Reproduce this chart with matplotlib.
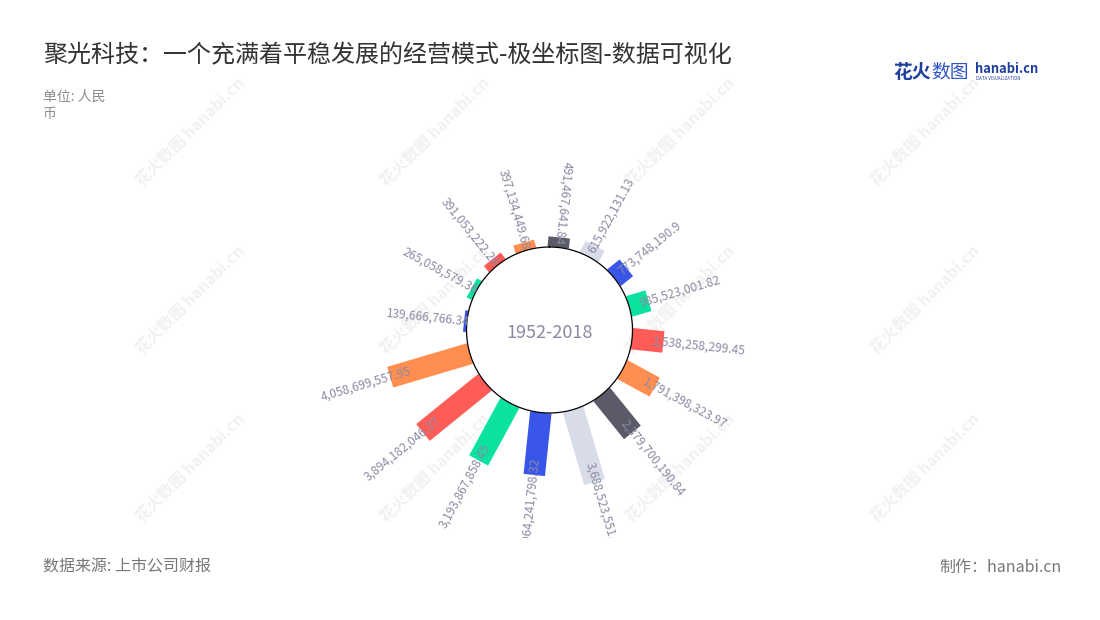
import numpy as np
import matplotlib
matplotlib.use("Agg")
import matplotlib.pyplot as plt
from matplotlib.transforms import Bbox, TransformedBbox

plt.rcParams['font.family'] = ['Noto Sans CJK SC', 'DejaVu Sans']

# ---------------- data ----------------
values = [139666766.34, 265058579.36, 391053222.26, 397134449.68,
          491467641.84, 615922131.13, 773748190.9, 985523001.82,
          1538258299.45, 1791398323.97, 2379700190.84, 3688523551.12,
          3064241798.32, 3193867858.45, 3894182046.37, 4058699557.95]
labels = ["139,666,766.34", "265,058,579.36", "391,053,222.26", "397,134,449.68",
          "491,467,641.84", "615,922,131.13", "773,748,190.9", "985,523,001.82",
          "1,538,258,299.45", "1,791,398,323.97", "2,379,700,190.84", "3,688,523,551.12",
          "3,064,241,798.32", "3,193,867,858.45", "3,894,182,046.37", "4,058,699,557.95"]
palette = ['#3a56e8', '#0be2a0', '#ff5b57', '#ff8e50', '#5a5a68', '#d8dce8']
title = "聚光科技：一个充满着平稳发展的经营模式-极坐标图-数据可视化"
unit_lines = ["单位: 人民", "币"]
center_text = "1952-2018"
source_text = "数据来源: 上市公司财报"
maker_text = "制作：hanabi.cn"

# ---------------- layout ----------------
W, H = 1100, 620
fig = plt.figure(figsize=(W / 100, H / 100), dpi=100)
fig.patch.set_facecolor('white')

cx, cy = 549.5, 330.0       # centre in px (from top)
R_AX = 250.0                # axes radius in px
HOLE_PX = 83.0
VAL_PER_PX = 48.8e6
R0 = HOLE_PX * VAL_PER_PX
RMAX = (R_AX - HOLE_PX) * VAL_PER_PX

# watermarks (behind everything)
for wx in [190, 435, 680, 925]:
    for wy in [132, 300, 468]:
        fig.text(wx / W, 1 - wy / H, "花火数图 hanabi.cn", rotation=45,
                 ha='center', va='center', fontsize=11.5, color='#f1f1f1',
                 fontweight='bold', zorder=-5)

ax = fig.add_axes([(cx - R_AX) / W, (H - cy - R_AX) / H, 2 * R_AX / W, 2 * R_AX / H],
                  projection='polar')
ax.set_zorder(2)
ax.set_theta_zero_location('N')
ax.set_theta_direction(-1)
ax.set_ylim(0, RMAX)
ax.set_rorigin(-R0)
ax.set_axis_off()
ax.patch.set_alpha(0)

n = len(values)
start_deg = -84.0
step = 360.0 / n
angles_deg = [start_deg + i * step for i in range(n)]

clip_bb = TransformedBbox(Bbox([[0, (H - 538) / H], [1, 1]]), fig.transFigure)

for i, (v, lab, a) in enumerate(zip(values, labels, angles_deg)):
    th = np.deg2rad(a)
    ax.plot([th, th], [0, v], color=palette[i % len(palette)], lw=15.5,
            solid_capstyle='butt', zorder=2, clip_on=False)
    phi = a % 360
    r_anchor = 0.8 * v - 5 * VAL_PER_PX
    inward = (phi >= 180) or (phi < 15)
    if inward:
        rot = 270 - phi
        ha = 'right'
    else:
        rot = 90 - phi
        ha = 'left'
    t = ax.text(th, r_anchor, lab, rotation=rot, rotation_mode='anchor',
                ha=ha, va='center', fontsize=8.7, color='#8a8aa2', zorder=4)
    t.set_clip_on(True)
    t.set_clip_box(clip_bb)

# inner circle outline
tt = np.linspace(0, 2 * np.pi, 400)
ax.plot(tt, np.zeros_like(tt), color='black', lw=0.9, zorder=3, clip_on=False)

fig.text(cx / W, 1 - 333 / H, center_text, ha='center', va='center',
         fontsize=13, color='#8a8aa2', zorder=5)

# titles & notes
fig.text(43 / W, 1 - 55 / H, title, ha='left', va='center', fontsize=17.3, color='#333333')
fig.text(43 / W, 1 - 97 / H, unit_lines[0], ha='left', va='center', fontsize=10, color='#8c8c8c')
fig.text(43 / W, 1 - 114 / H, unit_lines[1], ha='left', va='center', fontsize=10, color='#8c8c8c')
fig.text(43 / W, 1 - 567 / H, source_text, ha='left', va='center', fontsize=11.5, color='#777777')
fig.text(1062 / W, 1 - 567 / H, maker_text, ha='right', va='center', fontsize=11.5, color='#777777')

# logo
fig.text(893 / W, 1 - 72 / H, "花火", ha='left', va='center', fontsize=13.5,
         fontweight='bold', color='#1f3f9e')
fig.text(931 / W, 1 - 72 / H, "数图", ha='left', va='center', fontsize=13.5,
         color='#2f55c8')
fig.text(975 / W, 1 - 69 / H, "hanabi.cn", ha='left', va='center', fontsize=9.3,
         fontweight='bold', color='#1f3f9e')
fig.text(976 / W, 1 - 79 / H, "DATA VISUALIZATION", ha='left', va='center', fontsize=3.2,
         color='#1f3f9e')

fig.savefig('out.png', dpi=100, facecolor='white')
